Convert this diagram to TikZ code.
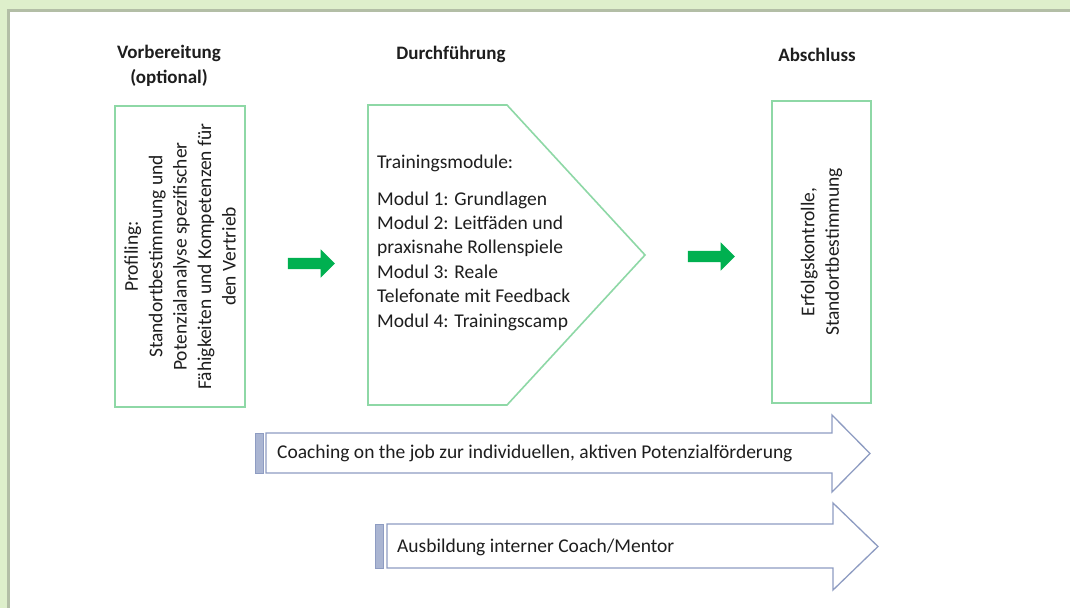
\documentclass[tikz,border=0pt]{standalone}
\usepackage{fontspec}
\setmainfont{Carlito}
\usetikzlibrary{shapes.arrows}
\definecolor{bggreen}{HTML}{DEEFCB}
\definecolor{shadowgray}{HTML}{B3BEA6}
\definecolor{boxgreen}{HTML}{8ED8A6}
\definecolor{arrgreen}{HTML}{00B050}
\definecolor{arrline}{HTML}{8E9CC2}
\definecolor{barfill}{HTML}{AAB5D2}
\definecolor{txt}{HTML}{1E1E1E}
\begin{document}
\begin{tikzpicture}[x=1pt,y=-1pt,
  every node/.style={text=txt, font=\fontsize{19.5}{24.4}\selectfont},
  head/.style={font=\bfseries\fontsize{19}{25}\selectfont, align=center, inner sep=0},
  greenbox/.style={draw=boxgreen, line width=1.6pt, align=center, inner sep=0},
  greenline/.style={draw=boxgreen, line width=1.6pt, line join=miter},
  greenarrow/.style={single arrow, fill=arrgreen, draw=none, inner xsep=0pt, inner ysep=5.5pt, single arrow head extend=8.5pt, minimum height=47pt},
  blockarrow/.style={draw=arrline, fill=white, line width=1.3pt, line join=miter},
  stripe/.style={draw=arrline, fill=barfill, line width=0.8pt},
  plain/.style={inner sep=0, align=left}
]
% background frame
\fill[bggreen] (0,0) rectangle (1070,608);
\fill[shadowgray] (7,9) rectangle (1070,608);
\fill[white] (10,12) rectangle (1070,608);
\useasboundingbox (0,0) rectangle (1070,608);

% headers
\node[head] (h1) at (169,65.5) {Vorbereitung\\(optional)};
\node[head] (h2) at (451,54) {Durchführung};
\node[head] (h3) at (817,55) {Abschluss};

% left box
\node[greenbox, rotate=90, minimum width=301pt, minimum height=130pt] (prof) at (180,256.5)
  {Profiling:\\Standortbestimmung und\\Potenzialanalyse spezifischer\\Fähigkeiten und Kompetenzen für\\den Vertrieb};

% pentagon
\coordinate (p1) at (368,105);
\coordinate (p2) at (507,105);
\coordinate (p3) at (645,255);
\coordinate (p4) at (507,405);
\coordinate (p5) at (368,405);
\draw[greenline] (p1) -- (p2) -- (p3) -- (p4) -- (p5) -- cycle;
\node[plain, anchor=north west] (tm) at (377,155)
  {Trainingsmodule:\\[12pt]Modul 1: Grundlagen\\Modul 2: Leitfäden und\\praxisnahe Rollenspiele\\Modul 3: Reale\\Telefonate mit Feedback\\Modul 4: Trainingscamp};

% right box
\node[greenbox, rotate=90, minimum width=302pt, minimum height=99pt] (erf) at (821.5,252)
  {Erfolgskontrolle,\\Standortbestimmung};

% green arrows
\node[greenarrow] (ga1) at (308.5,263.5) {};
\node[greenarrow] (ga2) at (708.5,256.5) {};

% block arrow 1
\draw[blockarrow] (266,433) -- (832,433) -- (832,415) -- (870,453.5) -- (832,492) -- (832,473) -- (266,473) -- cycle;
\draw[stripe] (255,433) rectangle (263,473);
\node[plain, anchor=west] (coach) at (277,453) {Coaching on the job zur individuellen, aktiven Potenzialförderung};

% block arrow 2
\draw[blockarrow] (387,524) -- (833,524) -- (833,503) -- (878,546.5) -- (833,590) -- (833,568) -- (387,568) -- cycle;
\draw[stripe] (375,524) rectangle (383,568);
\node[plain, anchor=west] (ausb) at (397,547) {Ausbildung interner Coach/Mentor};
\end{tikzpicture}
\end{document}
